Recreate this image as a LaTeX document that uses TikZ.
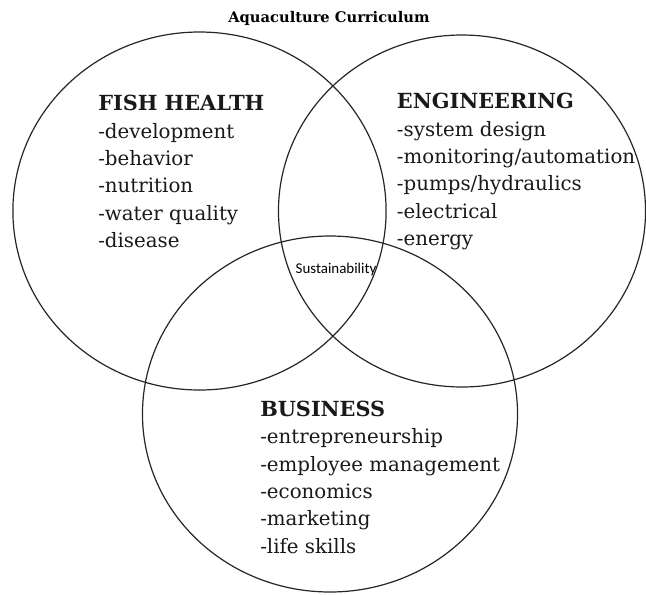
\documentclass[tikz,border=0pt]{standalone}
\usepackage{fontspec}
\setmainfont{DejaVu Serif}
\newfontfamily\labelsans{Carlito}
\usetikzlibrary{shapes.geometric}

\tikzset{
  ring/.style={draw=black!85, line width=0.9pt, ellipse, inner sep=0pt, fill=none},
  block/.style={anchor=north west, inner sep=0pt, align=left, text=black!90,
    font=\fontsize{14.85}{20.5}\selectfont},
  heading/.style={font=\fontsize{15.6}{20.5}\selectfont\bfseries},
}

\begin{document}
\begin{tikzpicture}[x=0.75pt, y=-0.75pt]
  \useasboundingbox (0,0) rectangle (646,594);
  \fill[white] (0,0) rectangle (646,594);

  % title
  \node[font=\fontsize{11}{13}\selectfont\bfseries, anchor=base] (title) at (329,22) {Aquaculture Curriculum};

  % the three overlapping areas
  \node[ring, minimum width=279.9pt, minimum height=268.5pt] (fish) at (199.5,211) {};
  \node[ring, minimum width=275.3pt, minimum height=264pt] (eng) at (462,211) {};
  \node[ring, minimum width=281.3pt, minimum height=267pt] (bus) at (330,414) {};

  % contents of each area
  \node[block] (fishtext) at (98,95)
    {{\fontsize{15.6}{20.5}\selectfont\bfseries FISH HEALTH}\\-development\\-behavior\\-nutrition\\-water quality\\-disease};
  \node[block] (engtext) at (396.7,93)
    {{\fontsize{15.6}{20.5}\selectfont\bfseries ENGINEERING}\\-system design\\-monitoring/automation\\-pumps/hydraulics\\-electrical\\-energy};
  \node[block] (bustext) at (260,400.7)
    {{\fontsize{15.6}{20.5}\selectfont\bfseries BUSINESS}\\-entrepreneurship\\-employee management\\-economics\\-marketing\\-life skills};

  % common centre
  \node[font=\labelsans\fontsize{11.2}{13}\selectfont] (core) at (336,270) {Sustainability};
\end{tikzpicture}
\end{document}
